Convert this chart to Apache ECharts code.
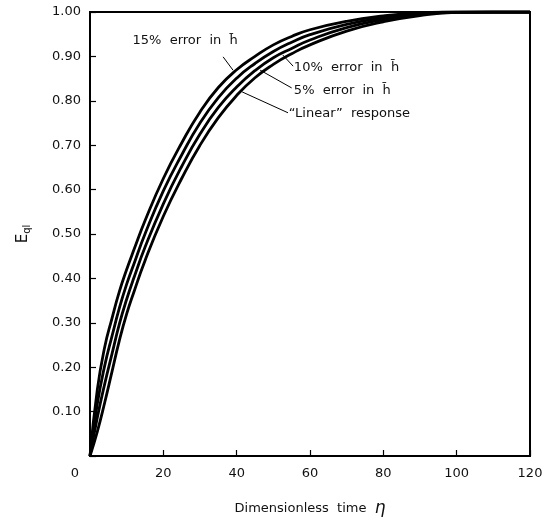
<!DOCTYPE html>
<html><head><meta charset="utf-8">
<script src="https://cdn.jsdelivr.net/npm/echarts@6/dist/echarts.min.js"></script>
<style>html,body{margin:0;padding:0;background:#fff}#c{width:554px;height:524px}</style>
</head><body><div id="c"></div>
<script>
// Data
var eta    = [0, 2, 4, 6, 8, 10, 12, 15, 20, 25, 30, 35, 40, 45, 50, 55, 60, 70, 80, 90, 100, 110, 120];
var e15    = [0, 0.15, 0.245, 0.31, 0.37, 0.42, 0.465, 0.53, 0.625, 0.705, 0.775, 0.83, 0.87, 0.90, 0.926, 0.945, 0.96, 0.979, 0.991, 0.998, 1.0, 1.0, 1.0];
var e10    = [0, 0.118, 0.203, 0.27, 0.333, 0.387, 0.433, 0.50, 0.597, 0.678, 0.75, 0.807, 0.851, 0.884, 0.911, 0.932, 0.949, 0.972, 0.987, 0.996, 1.0, 1.0, 1.0];
var e5     = [0, 0.087, 0.162, 0.23, 0.297, 0.353, 0.402, 0.47, 0.568, 0.652, 0.725, 0.785, 0.831, 0.868, 0.897, 0.918, 0.937, 0.965, 0.983, 0.995, 0.999, 1.0, 1.0];
var eLin   = [0, 0.055, 0.12, 0.19, 0.26, 0.32, 0.37, 0.44, 0.54, 0.625, 0.70, 0.762, 0.812, 0.852, 0.882, 0.906, 0.926, 0.957, 0.978, 0.992, 0.999, 1.0, 1.0];
var seriesNames = ['15% error in h\u0304', '10% error in h\u0304', '5% error in h\u0304', '\u201cLinear\u201d response'];
var xTicks = [0, 20, 40, 60, 80, 100, 120];
var yTicks = [0, 0.1, 0.2, 0.3, 0.4, 0.5, 0.6, 0.7, 0.8, 0.9, 1.0];
// annotation anchors in data units: [textEta, textE, lineFromEta, lineFromE, lineToEta, lineToE]
var notes = [
  [11.6, 0.932, 36.3, 0.899, 39.0, 0.869],
  [55.6, 0.872, 52.6, 0.903, 55.4, 0.878],
  [55.6, 0.820, 46.4, 0.869, 55.0, 0.829],
  [54.2, 0.768, 41.5, 0.820, 54.0, 0.773]
];

function pairs(ys){ return eta.map(function(x,i){ return [x, ys[i]]; }); }
var FONT = 'DejaVu Sans';
var chart = echarts.init(document.getElementById('c'), null, {renderer:'canvas'});
var curves = [e15, e10, e5, eLin];
var option = {
  animation:false,
  backgroundColor:'#fff',
  grid:{left:90, right:24, top:12, bottom:68, show:true, borderColor:'#000', borderWidth:2, backgroundColor:'transparent'},
  xAxis:{
    type:'value', min:0, max:120, interval:20,
    axisLine:{show:true, lineStyle:{color:'#000', width:2}},
    axisTick:{show:true, inside:true, length:6, lineStyle:{color:'#000', width:1.2}},
    splitLine:{show:false},
    axisLabel:{color:'#111', fontFamily:FONT, fontSize:13, margin:11,
      formatter:function(v){ return v===0 ? '{z|0}' : String(v); },
      rich:{z:{fontFamily:FONT, fontSize:13, color:'#111', padding:[0,30,0,0]}}},
    name:'Dimensionless  time  {e|\u03b7}', nameLocation:'middle', nameGap:44,
    nameTextStyle:{color:'#111', fontFamily:FONT, fontSize:13, rich:{e:{fontFamily:FONT, fontSize:17, fontStyle:'italic', color:'#111'}}}
  },
  yAxis:{
    type:'value', min:0, max:1, interval:0.1,
    axisLine:{show:true, lineStyle:{color:'#000', width:2}},
    axisTick:{show:true, inside:true, length:6, lineStyle:{color:'#000', width:1.2}},
    splitLine:{show:false},
    axisLabel:{color:'#111', fontFamily:FONT, fontSize:13, margin:9,
      formatter:function(v){ return v===0 ? '' : v.toFixed(2); }},
    name:'{a|E}{b|ql}', nameLocation:'middle', nameGap:58, nameRotate:90,
    nameTextStyle:{rich:{a:{fontFamily:FONT, fontSize:15, color:'#111'}, b:{fontFamily:FONT, fontSize:10, color:'#111', padding:[8,0,0,0]}}}
  },
  series: curves.map(function(c, i){
    return {type:'line', name:seriesNames[i], data:pairs(c), smooth:0.5, showSymbol:false,
      lineStyle:{color:'#000', width:2.8}, z:3};
  })
};
chart.setOption(option);

var g = [];
notes.forEach(function(n, i){
  var t = chart.convertToPixel({gridIndex:0}, [n[0], n[1]]);
  var a = chart.convertToPixel({gridIndex:0}, [n[2], n[3]]);
  var b = chart.convertToPixel({gridIndex:0}, [n[4], n[5]]);
  g.push({type:'text', left:t[0], top:t[1]-8, style:{text:seriesNames[i].replace(/ /g,'  '), fontFamily:FONT, fontSize:13, fill:'#111'}, z:10});
  g.push({type:'line', shape:{x1:a[0], y1:a[1], x2:b[0], y2:b[1]}, style:{stroke:'#000', lineWidth:1}, z:10});
});
chart.setOption({graphic:g});
</script>
</body></html>
